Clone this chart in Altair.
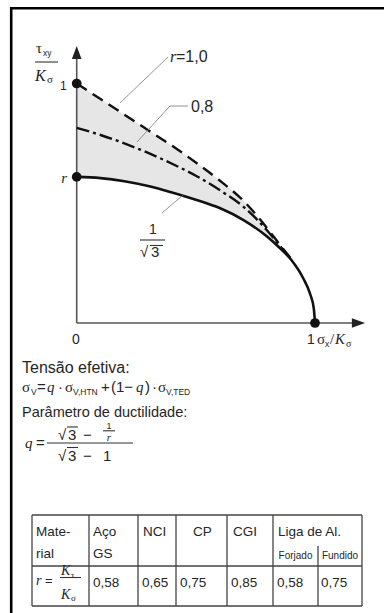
import altair as alt
import pandas as pd

# sigma_x / K_sigma grid and tau_xy / K_sigma of each curve along it
sigma_ratio = [0, 0.1, 0.2, 0.3, 0.4, 0.5, 0.6, 0.7, 0.8, 0.85, 0.9, 0.95, 0.98, 0.995, 1.0]
tau_r058 = [0.61, 0.605, 0.592, 0.572, 0.545, 0.515, 0.48, 0.43, 0.36, 0.315, 0.264, 0.188, 0.12, 0.06, 0.0]
tau_r080 = [0.815, 0.785, 0.75, 0.71, 0.665, 0.615, 0.555, 0.485, 0.385, 0.325, 0.266]
tau_r100 = [1.0, 0.935, 0.87, 0.805, 0.74, 0.67, 0.595, 0.51, 0.395, 0.33, 0.268]

# material table
materials_top = ["Mate-", "Aço", "NCI", "CP", "CGI", "Liga de Al."]
materials_bottom = ["rial", "GS", "", "", "", ""]
alloy_kinds = ["Forjado", "Fundido"]
r_values = ["0,58", "0,65", "0,75", "0,85", "0,58", "0,75"]

# ---------------- layout ----------------
W, H = 384, 613
ORIGIN = (76.7, 323.0)       # pixel position of (0, 0)
UNIT = (238.3, 239.5)        # pixels per unit on x and y
INK = "#262626"
SANS = "Liberation Sans"
SERIF = "Liberation Serif"

x_dom = [-ORIGIN[0] / UNIT[0], (W - ORIGIN[0]) / UNIT[0]]
y_dom = [(ORIGIN[1] - H) / UNIT[1], ORIGIN[1] / UNIT[1]]
xs = alt.Scale(domain=x_dom, nice=False, zero=False)
ys = alt.Scale(domain=y_dom, nice=False, zero=False)


def dx(field):
    return alt.X(field, scale=xs, axis=None)


def dy(field):
    return alt.Y(field, scale=ys, axis=None)


def px(field):
    return alt.X(field, scale=None, axis=None)


def py(field):
    return alt.Y(field, scale=None, axis=None)


n_up = len(tau_r100)
band = pd.DataFrame({"s": sigma_ratio[:n_up], "lo": tau_r058[:n_up], "hi": tau_r100})
solid_df = pd.DataFrame({"s": sigma_ratio, "t": tau_r058})
r080_df = pd.DataFrame({"s": sigma_ratio[:len(tau_r080)], "t": tau_r080})
r100_df = pd.DataFrame({"s": sigma_ratio[:n_up], "t": tau_r100})

shade = alt.Chart(band).mark_area(color="#e6e6e6", interpolate="monotone").encode(
    x=dx("s:Q"), y=dy("lo:Q"), y2="hi:Q")
line_solid = alt.Chart(solid_df).mark_line(color="#111", strokeWidth=2.6, interpolate="monotone").encode(
    x=dx("s:Q"), y=dy("t:Q"))
line_r080 = alt.Chart(r080_df).mark_line(color="#111", strokeWidth=2.4, interpolate="monotone",
                                         strokeDash=[13, 4, 3, 4]).encode(x=dx("s:Q"), y=dy("t:Q"))
line_r100 = alt.Chart(r100_df).mark_line(color="#111", strokeWidth=2.4, interpolate="monotone",
                                         strokeDash=[12, 7]).encode(x=dx("s:Q"), y=dy("t:Q"))

# axes with arrow heads
axes_df = pd.DataFrame({"x1": [0, 0], "y1": [0, 0], "x2": [0, 1.17], "y2": [1.12, 0]})
axes = alt.Chart(axes_df).mark_rule(color="#555", strokeWidth=1.6).encode(
    x=dx("x1:Q"), y=dy("y1:Q"), x2="x2:Q", y2="y2:Q")
arrow_up = alt.Chart(pd.DataFrame({"x": [0], "y": [1.127]})).mark_point(
    shape="M0,-1.2L0.8,1L-0.8,1Z", filled=True, color="#222", size=144, opacity=1).encode(
    x=dx("x:Q"), y=dy("y:Q"))
arrow_right = alt.Chart(pd.DataFrame({"x": [1.18], "y": [0]})).mark_point(
    shape="M1.2,0L-1,0.8L-1,-0.8Z", filled=True, color="#222", size=144, opacity=1).encode(
    x=dx("x:Q"), y=dy("y:Q"))
dots = alt.Chart(pd.DataFrame({"x": [0, 0, 1], "y": [1, tau_r058[0], 0]})).mark_point(
    shape="circle", filled=True, color="#111", size=95, opacity=1).encode(x=dx("x:Q"), y=dy("y:Q"))


def rules(segs, color, width):
    df = pd.DataFrame(segs, columns=["x1", "y1", "x2", "y2"])
    return alt.Chart(df).mark_rule(color=color, strokeWidth=width).encode(
        x=px("x1:Q"), y=py("y1:Q"), x2="x2:Q", y2="y2:Q")


# frame, leaders, fraction bars
frame = rules([(11.2, 7, 11.2, H), (10, 8.3, W, 8.3)], "#000", 2.6)
leaders = rules([(120, 103, 168, 57), (137, 142, 170, 106), (170, 106, 188, 106),
                 (183, 195, 162, 213)], "#777", 0.8)
bars = rules([(35, 62, 58, 62), (140, 240, 165, 240), (150, 245.5, 163, 245.5),
              (47, 443, 133, 443), (103, 430.8, 115, 430.8),
              (67, 427, 78, 427), (67, 447.5, 78, 447.5),
              (60, 577.5, 81, 577.5)], "#333", 1.1)

# table grid
T_TOP, T_MID, T_BOT = 515, 566, 606
COLS = [32, 89, 138, 176, 227, 273, 362]
SUB_COL = 318
grid_segs = [(COLS[0], y, COLS[-1], y) for y in (T_TOP, T_MID, T_BOT)]
grid_segs += [(c, T_TOP, c, T_BOT) for c in COLS]
grid_segs.append((SUB_COL, 546, SUB_COL, T_BOT))
grid = rules(grid_segs, "#444", 1.3)

# text pieces: (text, x, baseline y, size, family, italic, align)
T = []
# axis labels
T += [("τ", 36, 53, 15, SERIF, False, "left"), ("xy", 43, 56, 8.5, SANS, False, "left"),
      ("K", 35, 81, 16, SERIF, True, "left"), ("σ", 47, 83, 11, SERIF, False, "left"),
      ("1", 60, 90, 12, SANS, False, "left"),
      ("r", 67, 183, 15, SERIF, True, "right"),
      ("0", 76, 344, 14, SANS, False, "center"),
      ("1", 307, 344, 14, SANS, False, "left"), ("σ", 317, 344, 15, SERIF, False, "left"),
      ("x", 325, 347, 8.5, SANS, False, "left"), ("/", 330, 344, 15, SERIF, False, "left"),
      ("K", 335, 344, 15, SERIF, True, "left"), ("σ", 346, 347, 10, SERIF, False, "left")]
# curve labels
T += [("r", 170, 62, 16, SERIF, True, "left"), ("=1,0", 176, 62, 16, SANS, False, "left"),
      ("0,8", 191, 112, 16, SANS, False, "left"),
      ("1", 153, 234, 14, SANS, False, "center"),
      ("√", 140, 257, 15, SANS, False, "left"), ("3", 151, 257, 15, SANS, False, "left")]
# effective stress
T += [("Tensão efetiva:", 22, 373, 16, SANS, False, "left"),
      ("σ", 22, 392, 15, SERIF, False, "left"), ("V", 31, 395, 8.5, SANS, False, "left"),
      ("=", 37, 392, 15, SANS, False, "left"), ("q", 47, 392, 15, SERIF, True, "left"),
      ("·", 58, 392, 15, SANS, False, "left"),
      ("σ", 65, 392, 15, SERIF, False, "left"), ("V,HTN", 73, 395, 8.5, SANS, False, "left"),
      ("+", 101, 392, 15, SANS, False, "left"), ("(1−", 111, 392, 15, SANS, False, "left"),
      ("q", 136, 392, 15, SERIF, True, "left"), (")", 145, 392, 15, SANS, False, "left"),
      ("·", 152, 392, 15, SANS, False, "left"),
      ("σ", 158, 392, 15, SERIF, False, "left"), ("V,TED", 166, 395, 8.5, SANS, False, "left")]
# ductility parameter
T += [("Parâmetro de ductilidade:", 22, 417, 14.5, SANS, False, "left"),
      ("q", 25, 448, 15, SERIF, True, "left"), ("=", 36, 448, 15, SANS, False, "left"),
      ("√", 58, 440, 15, SANS, False, "left"), ("3", 68, 440, 15, SANS, False, "left"),
      ("−", 83, 440, 15, SANS, False, "left"),
      ("1", 109, 428.5, 9, SANS, False, "center"), ("r", 109, 441, 11, SERIF, True, "center"),
      ("√", 58, 461, 15, SANS, False, "left"), ("3", 68, 461, 15, SANS, False, "left"),
      ("−", 83, 461, 15, SANS, False, "left"), ("1", 103, 461, 15, SANS, False, "left")]

# table text
head_x = [36, 93, 143, 193, 233, 278]
for name, lower, x in zip(materials_top, materials_bottom, head_x):
    T.append((name, x, 536, 13.5, SANS, False, "left"))
    if lower:
        T.append((lower, x, 558, 13.5, SANS, False, "left"))
for kind, cx in zip(alloy_kinds, [(COLS[5] + SUB_COL) / 2, (SUB_COL + COLS[6]) / 2]):
    T.append((kind, cx, 559, 10, SANS, False, "center"))
value_x = [c + 4 for c in COLS[1:6]] + [SUB_COL + 3]
for val, x in zip(r_values, value_x):
    T.append((val, x, 587, 13.5, SANS, False, "left"))
T += [("r", 36, 585, 14, SERIF, True, "left"), ("=", 45, 585, 13, SANS, False, "left"),
      ("K", 61, 575, 14, SERIF, True, "left"), ("τ", 71, 578, 9, SERIF, False, "left"),
      ("K", 61, 599, 14, SERIF, True, "left"), ("σ", 71, 601, 9, SERIF, False, "left")]

text_df = pd.DataFrame(T, columns=["t", "x", "y", "s", "fam", "it", "al"])
text_layers = []
for (fam, it, al), grp in text_df.groupby(["fam", "it", "al"]):
    text_layers.append(
        alt.Chart(grp[["t", "x", "y", "s"]]).mark_text(
            font=fam, fontStyle="italic" if it else "normal", align=al,
            baseline="alphabetic", color=INK).encode(
            x=px("x:Q"), y=py("y:Q"), text="t:N",
            size=alt.Size("s:Q", scale=None, legend=None)))

chart = alt.layer(
    shade, axes, arrow_up, arrow_right, line_solid, line_r080, line_r100, dots,
    frame, leaders, bars, grid, *text_layers
).resolve_scale(x="independent", y="independent").properties(
    width=W, height=H, padding=0, autosize="none", background="white"
).configure_view(stroke=None)

chart.save("out.html", embed_options={"renderer": "svg", "actions": False})
